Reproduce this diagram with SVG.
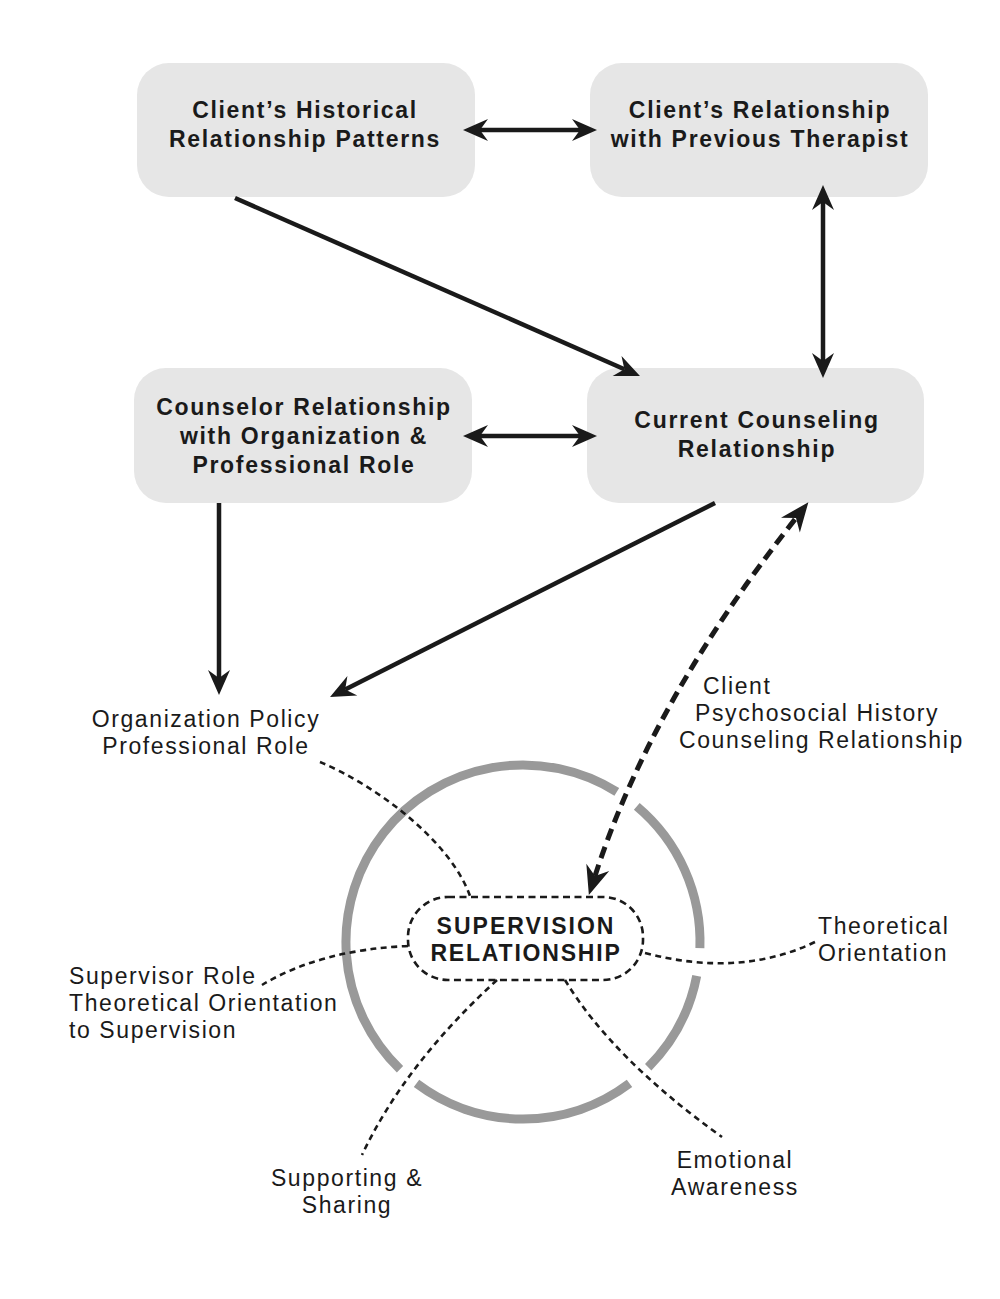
<svg xmlns="http://www.w3.org/2000/svg" width="1000" height="1299" viewBox="0 0 1000 1299">
  <style>
    .box { fill: #e6e6e6; }
    .bt { font-family: "Liberation Sans", Arial, sans-serif; font-weight: bold; font-size: 23px; letter-spacing: 1.7px; fill: #1a1a1a; text-anchor: middle; }
    .lbl { font-family: "Liberation Sans", Arial, sans-serif; font-size: 23px; letter-spacing: 1.6px; fill: #1a1a1a; }
    .mid { text-anchor: middle; }
    .solid { fill: none; stroke: #1a1a1a; stroke-width: 4.5; }
    .dashbig { fill: none; stroke: #1a1a1a; stroke-width: 5; stroke-dasharray: 12 7; }
    .dot { fill: none; stroke: #1a1a1a; stroke-width: 2.6; stroke-dasharray: 6 4.5; }
    .ring { fill: none; stroke: #999999; stroke-width: 9; }
  </style>
  <defs>
    <marker id="ah" markerUnits="userSpaceOnUse" viewBox="-9 -12 28 24" refX="0" refY="0" markerWidth="28" markerHeight="24" orient="auto-start-reverse">
      <path d="M17,0 L-8,-11 L0,0 L-8,11 Z" fill="#1a1a1a"/>
    </marker>
    <marker id="ahb" markerUnits="userSpaceOnUse" viewBox="-10 -14 32 28" refX="0" refY="0" markerWidth="32" markerHeight="28" orient="auto-start-reverse">
      <path d="M20,0 L-9,-12 L0,0 L-9,12 Z" fill="#1a1a1a"/>
    </marker>
  </defs>

  <!-- supervision ring -->
  <g id="ring">
    <path class="ring" d="M696.7,975.8 A177,177 0 0 1 648.2,1067.2"/>
    <path class="ring" d="M629.5,1083.4 A177,177 0 0 1 416.5,1083.4"/>
    <path class="ring" d="M400.0,1069.3 A177,177 0 0 1 616.8,791.9"/>
    <path class="ring" d="M636.8,806.4 A177,177 0 0 1 699.9,948.2"/>
  </g>

  <g id="node-historical">
    <rect class="box" x="137" y="63" width="338" height="134" rx="32"/>
    <text class="bt" x="305" y="118">Client’s Historical</text>
    <text class="bt" x="305" y="147">Relationship Patterns</text>
  </g>
  <g id="node-previous">
    <rect class="box" x="590" y="63" width="338" height="134" rx="32"/>
    <text class="bt" x="760" y="118">Client’s Relationship</text>
    <text class="bt" x="760" y="147">with Previous Therapist</text>
  </g>
  <g id="node-counselor">
    <rect class="box" x="134" y="368" width="338" height="135" rx="32"/>
    <text class="bt" x="304" y="415">Counselor Relationship</text>
    <text class="bt" x="304" y="444">with Organization &amp;</text>
    <text class="bt" x="304" y="473">Professional Role</text>
  </g>
  <g id="node-current">
    <rect class="box" x="587" y="368" width="337" height="135" rx="32"/>
    <text class="bt" x="757" y="428">Current Counseling</text>
    <text class="bt" x="757" y="457">Relationship</text>
  </g>

  <g id="node-supervision">
    <rect x="408" y="897" width="235" height="83" rx="40" fill="#ffffff" stroke="#1a1a1a" stroke-width="2.6" stroke-dasharray="7 4.5"/>
    <text class="bt" x="526" y="934" style="letter-spacing:2px">SUPERVISION</text>
    <text class="bt" x="526" y="961" style="letter-spacing:1.8px">RELATIONSHIP</text>
  </g>

  <g id="labels">
    <g id="label-org">
      <text class="lbl mid" x="206" y="727">Organization Policy</text>
      <text class="lbl mid" x="206" y="754">Professional Role</text>
    </g>
    <g id="label-client">
      <text class="lbl" x="703" y="694">Client</text>
      <text class="lbl" x="695" y="721">Psychosocial History</text>
      <text class="lbl" x="679" y="748">Counseling Relationship</text>
    </g>
    <g id="label-supervisor">
      <text class="lbl" x="69" y="984">Supervisor Role</text>
      <text class="lbl" x="69" y="1011">Theoretical Orientation</text>
      <text class="lbl" x="69" y="1038">to Supervision</text>
    </g>
    <g id="label-theoretical">
      <text class="lbl" x="818" y="934">Theoretical</text>
      <text class="lbl" x="818" y="961">Orientation</text>
    </g>
    <g id="label-supporting">
      <text class="lbl mid" x="347" y="1186">Supporting &amp;</text>
      <text class="lbl mid" x="347" y="1213">Sharing</text>
    </g>
    <g id="label-emotional">
      <text class="lbl mid" x="735" y="1168">Emotional</text>
      <text class="lbl mid" x="735" y="1195">Awareness</text>
    </g>
  </g>

  <g id="connectors">
    <path class="solid" d="M480,130 L580,130" marker-start="url(#ah)" marker-end="url(#ah)"/>
    <path class="solid" d="M235,198 L624.4,369.2" marker-end="url(#ah)"/>
    <path class="solid" d="M823,202 L823,361" marker-start="url(#ah)" marker-end="url(#ah)"/>
    <path class="solid" d="M480,436 L580,436" marker-start="url(#ah)" marker-end="url(#ah)"/>
    <path class="solid" d="M219,503 L219,678" marker-end="url(#ah)"/>
    <path class="solid" d="M715,503 L345.2,689.4" marker-end="url(#ah)"/>
    <path class="dashbig" d="M595,876 Q651,702 796,518" marker-start="url(#ahb)" marker-end="url(#ahb)"/>
    <path class="dot" d="M320,762 C375,785 450,840 470,896"/>
    <path class="dot" d="M408,946 Q320,950 262,985"/>
    <path class="dot" d="M645,953 Q740,978 815,942"/>
    <path class="dot" d="M497,980 Q405,1064 362,1155"/>
    <path class="dot" d="M565,980 Q612,1058 722,1137"/>
  </g>
</svg>
